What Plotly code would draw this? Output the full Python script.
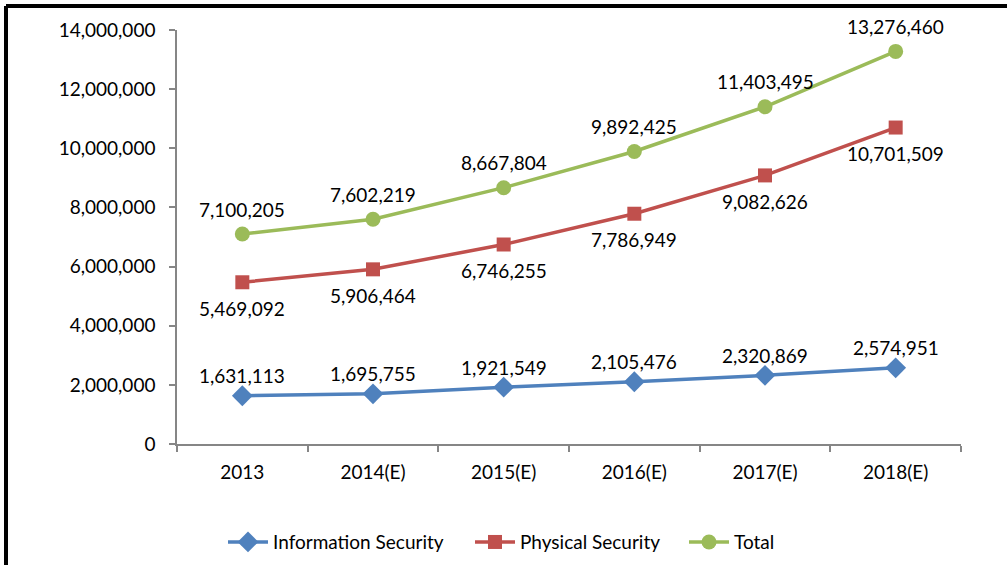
import plotly.graph_objects as go

years = ["2013", "2014(E)", "2015(E)", "2016(E)", "2017(E)", "2018(E)"]
info_security = [1631113, 1695755, 1921549, 2105476, 2320869, 2574951]
physical_security = [5469092, 5906464, 6746255, 7786949, 9082626, 10701509]
total = [7100205, 7602219, 8667804, 9892425, 11403495, 13276460]

FONT = "Lato"
FS = 19
fig = go.Figure()

# name, values, colour, symbol, marker size, label shift, legend id, legend left px
series = [
    ("Information Security", info_security, "#4F81BD", "diamond", 16, 20, "legend", 231),
    ("Physical Security", physical_security, "#C0504D", "square", 14, -26, "legend2", 478),
    ("Total", total, "#9BBB59", "circle", 15, 25, "legend3", 692),
]

annotations = []
legends = {}
for name, vals, color, sym, msize, shift, leg, lx in series:
    fig.add_trace(go.Scatter(
        x=years, y=vals, name=name, mode="lines+markers",
        line=dict(color=color, width=3.5),
        marker=dict(symbol=sym, size=msize, color=color),
        cliponaxis=False, legend=leg,
    ))
    legends[leg] = dict(orientation="h", x=(lx - 177 - 8) / 784, xanchor="left",
                        y=-0.237, yanchor="middle", font=dict(family=FONT, size=FS),
                        itemwidth=40, bgcolor="rgba(0,0,0,0)")
    for i, yv in enumerate(vals):
        annotations.append(dict(
            x=i, y=yv, xref="x", yref="y", text=f"{yv:,}", showarrow=False,
            yshift=shift, yanchor="middle", xanchor="center",
            font=dict(family=FONT, size=FS, color="#000000"),
        ))

axis_color = "#868686"
fig.update_layout(
    width=1007, height=565,
    margin=dict(l=177, r=46, t=30, b=121, autoexpand=False),
    paper_bgcolor="white", plot_bgcolor="white",
    font=dict(family=FONT, size=FS, color="#000000"),
    showlegend=True,
    annotations=annotations,
    xaxis=dict(type="category", range=[-0.5, 5.5], showgrid=False,
               showline=True, linecolor=axis_color, linewidth=1.5,
               ticks="outside", tickson="boundaries", ticklen=6, tickcolor=axis_color,
               tickwidth=1.5, tickfont=dict(family=FONT, size=FS), zeroline=False,
               tickangle=0, ticklabelstandoff=10),
    yaxis=dict(range=[0, 14000000], tickvals=[0, 2e6, 4e6, 6e6, 8e6, 10e6, 12e6, 14e6],
               tickformat=",d", showgrid=False, zeroline=False,
               showline=True, linecolor=axis_color, linewidth=1.5,
               ticks="outside", ticklen=6, tickcolor=axis_color, tickwidth=1.5,
               tickfont=dict(family=FONT, size=FS), ticklabelstandoff=10),
    shapes=[
        dict(type="line", xref="paper", yref="paper",
             x0=(6 - 177) / 784, x1=1.1, y0=(444 - 6) / 414, y1=(444 - 6) / 414,
             line=dict(color="black", width=4)),
        dict(type="line", xref="paper", yref="paper",
             x0=(6 - 177) / 784, x1=(6 - 177) / 784, y0=(444 - 6) / 414, y1=-0.4,
             line=dict(color="black", width=4)),
    ],
    **legends,
)

fig.write_html("out.html", config={"displayModeBar": False},
               post_script="document.body.style.margin='0';")
